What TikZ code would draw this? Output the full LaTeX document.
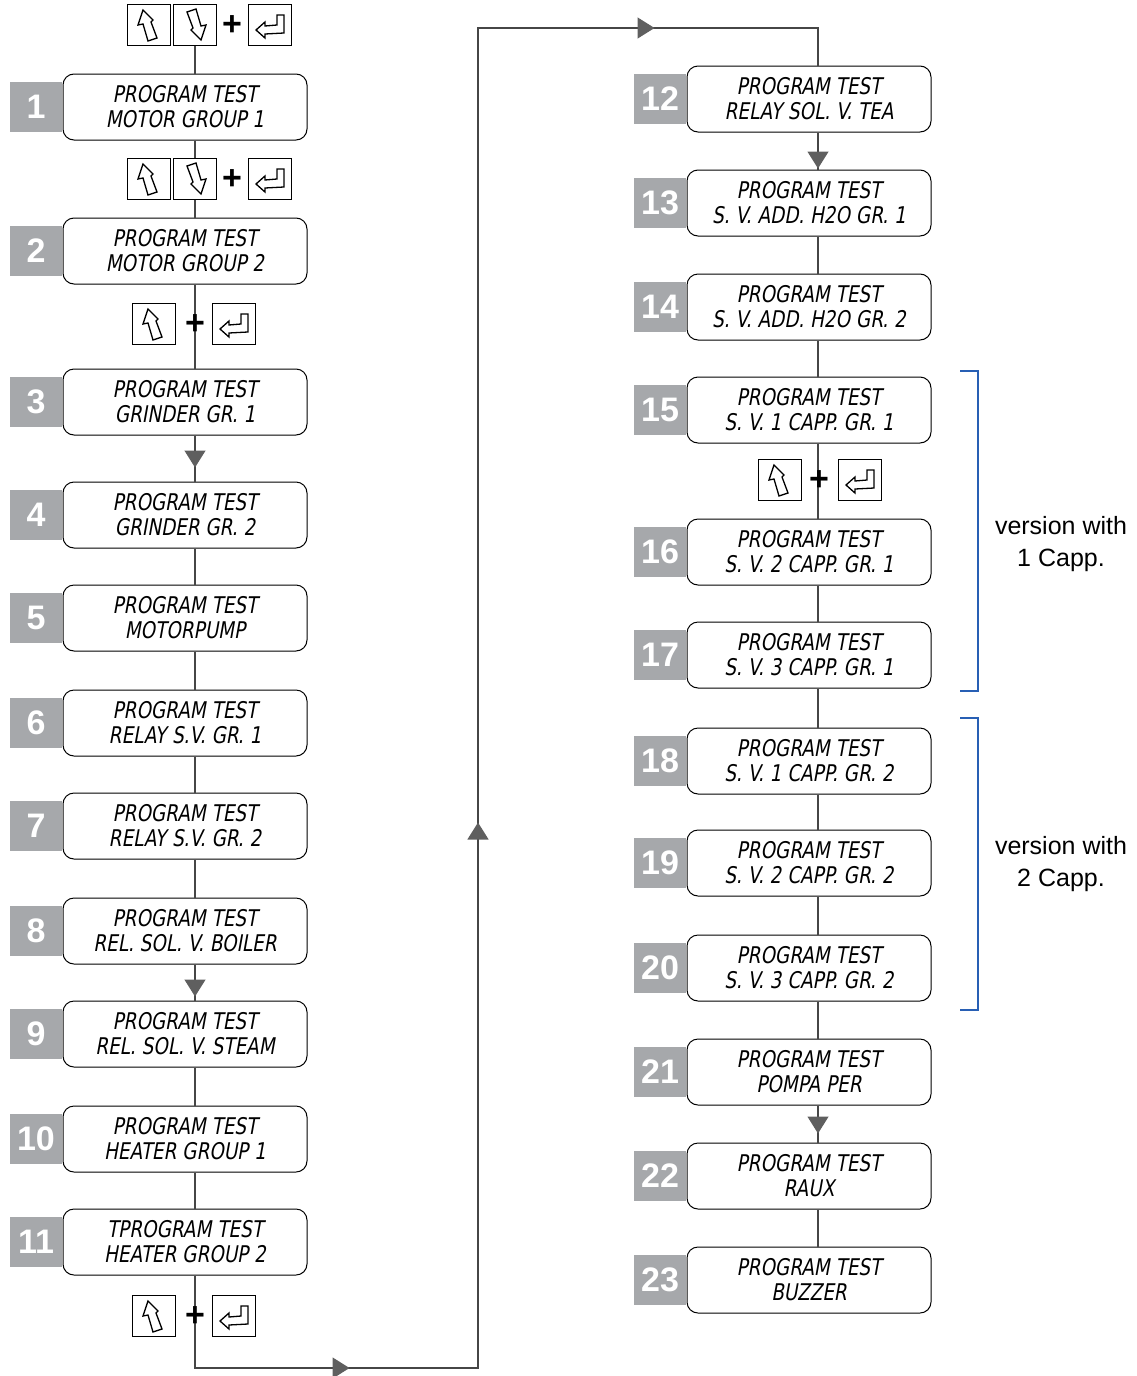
\documentclass[tikz,border=0pt]{standalone}
\usepackage{fontspec}
\setmainfont{Liberation Sans}
\setsansfont{Liberation Sans}
\newfontfamily\lcdfont[FakeStretch=0.8,FakeSlant=0.18]{DejaVu Sans}
\usepackage{xcolor}
\usetikzlibrary{arrows.meta,positioning,calc,decorations.markings}

\definecolor{numgray}{RGB}{166,168,171}
\definecolor{tipgray}{RGB}{95,95,95}
\definecolor{linegray}{RGB}{70,70,70}
\definecolor{bracketblue}{RGB}{40,95,180}

\tikzset{
  disp/.style={draw,rounded corners=11pt,line width=1pt,minimum width=244pt,minimum height=66pt,
    inner sep=0pt,align=center,font=\lcdfont\fontsize{23}{25}\selectfont},
  numbox/.style={fill=numgray,minimum width=52pt,minimum height=50pt,inner sep=0pt,
    text=white,font=\fontsize{34}{34}\selectfont\bfseries},
  keybox/.style={draw,fill=white,line width=0.9pt,minimum width=43pt,minimum height=41pt,inner sep=0pt},
  glyph/.style={draw,line width=1.3pt,line join=miter},
  plussign/.style={inner sep=0pt,font=\fontsize{34}{34}\selectfont\bfseries},
  flow/.style={draw=linegray,line width=1.3pt},
  tipat/.style={postaction=decorate,decoration={markings,
    mark=at position #1 with {\arrow{Triangle[width=21pt,length=17pt,color=tipgray]}}}},
  bracket/.style={draw=bracketblue,line width=1.3pt},
  note/.style={align=center,font=\fontsize{25}{32}\selectfont},
  upkey/.pic={
    \node[keybox] (-box) {};
    \draw[glyph] (-6,-15) -- (-11,0) -- (-6,-1) -- (-1,16) -- (8,13) -- (2,-3) -- (4,-5) -- cycle;
  },
  dnkey/.pic={
    \node[keybox] (-box) {};
    \draw[glyph] (6,15) -- (11,0) -- (6,1) -- (1,-16) -- (-8,-13) -- (-2,3) -- (-4,5) -- cycle;
  },
  entkey/.pic={
    \node[keybox] (-box) {};
    \draw[glyph] (-14,5) -- (-5,-3) -- (-5,1) -- (7,0) -- (7,-10) -- (14,-10) -- (14,8) -- (-5,9) -- (-5,13) -- cycle;
  }
}

\begin{document}
\begin{tikzpicture}[x=1pt,y=-1pt]
\useasboundingbox (0,0) rectangle (1137,1376);

% spines of the two columns
\coordinate (lx) at (195,0);
\coordinate (rx) at (818,0);

% left column displays
\node[disp] (d1) at (185,107) {PROGRAM TEST\\MOTOR GROUP 1};
\node[disp] (d2) at (185,251) {PROGRAM TEST\\MOTOR GROUP 2};
\node[disp] (d3) at (185,402) {PROGRAM TEST\\GRINDER GR. 1};
\node[disp] (d4) at (185,515) {PROGRAM TEST\\GRINDER GR. 2};
\node[disp] (d5) at (185,618) {PROGRAM TEST\\MOTORPUMP};
\node[disp] (d6) at (185,723) {PROGRAM TEST\\RELAY S.V. GR. 1};
\node[disp] (d7) at (185,826) {PROGRAM TEST\\RELAY S.V. GR. 2};
\node[disp] (d8) at (185,931) {PROGRAM TEST\\REL. SOL. V. BOILER};
\node[disp] (d9) at (185,1034) {PROGRAM TEST\\REL. SOL. V. STEAM};
\node[disp] (d10) at (185,1139) {PROGRAM TEST\\HEATER GROUP 1};
\node[disp] (d11) at (185,1242) {TPROGRAM TEST\\HEATER GROUP 2};

% right column displays
\node[disp] (d12) at (809,99) {PROGRAM TEST\\RELAY SOL. V. TEA};
\node[disp] (d13) at (809,203) {PROGRAM TEST\\S. V. ADD. H2O GR. 1};
\node[disp] (d14) at (809,307) {PROGRAM TEST\\S. V. ADD. H2O GR. 2};
\node[disp] (d15) at (809,410) {PROGRAM TEST\\S. V. 1 CAPP. GR. 1};
\node[disp] (d16) at (809,552) {PROGRAM TEST\\S. V. 2 CAPP. GR. 1};
\node[disp] (d17) at (809,655) {PROGRAM TEST\\S. V. 3 CAPP. GR. 1};
\node[disp] (d18) at (809,761) {PROGRAM TEST\\S. V. 1 CAPP. GR. 2};
\node[disp] (d19) at (809,863) {PROGRAM TEST\\S. V. 2 CAPP. GR. 2};
\node[disp] (d20) at (809,968) {PROGRAM TEST\\S. V. 3 CAPP. GR. 2};
\node[disp] (d21) at (809,1072) {PROGRAM TEST\\POMPA PER};
\node[disp] (d22) at (809,1176) {PROGRAM TEST\\RAUX};
\node[disp] (d23) at (809,1280) {PROGRAM TEST\\BUZZER};

% step numbers
\foreach \i/\y in {1/107,2/251,3/402,4/515,5/618,6/723,7/826,8/931,9/1034,10/1139,11/1242}
  \node[numbox] (n\i) at (36,\y) {\i};
\foreach \i/\y in {12/99,13/203,14/307,15/410,16/552,17/655,18/761,19/863,20/968,21/1072,22/1176,23/1280}
  \node[numbox] (n\i) at (660,\y) {\i};

% connectors, left column
\draw[flow] (d1.south -| lx) -- (d2.north -| lx);
\draw[flow] (d2.south -| lx) -- (d3.north -| lx);
\draw[flow,tipat=32pt] (d3.south -| lx) -- (d4.north -| lx);
\foreach \a/\b in {4/5,5/6,6/7,7/8,9/10,10/11}
  \draw[flow] (d\a.south -| lx) -- (d\b.north -| lx);
\draw[flow,tipat=32pt] (d8.south -| lx) -- (d9.north -| lx);

% connectors, right column
\draw[flow,tipat=36pt] (d12.south -| rx) -- (d13.north -| rx);
\foreach \a/\b in {13/14,14/15,15/16,16/17,17/18,18/19,19/20,20/21,22/23}
  \draw[flow] (d\a.south -| rx) -- (d\b.north -| rx);
\draw[flow,tipat=28pt] (d21.south -| rx) -- (d22.north -| rx);

% loop from 11 to 12
\coordinate (lb) at (478,1368);
\coordinate (lt) at (478,28);
\draw[flow,postaction=decorate,decoration={markings,
    mark=at position 247pt with {\arrow{Triangle[width=21pt,length=17pt,color=tipgray]}},
    mark=at position 921pt with {\arrow{Triangle[width=21pt,length=17pt,color=tipgray]}},
    mark=at position 1892pt with {\arrow{Triangle[width=21pt,length=17pt,color=tipgray]}}}]
  (d11.south -| lx) |- (lb) -- (lt) -| (d12.north -| rx);

% key combinations
\pic (ku0) at (149,25) {upkey};
\pic (kd0) at (195,25) {dnkey};
\node[plussign] (p0) at (232,26) {+};
\pic (ke0) at (270,25) {entkey};
\draw[flow] (kd0-box.south) -- (d1.north -| kd0-box);

\pic (ku1) at (149,179) {upkey};
\pic (kd1) at (195,179) {dnkey};
\node[plussign] (p1) at (232,180) {+};
\pic (ke1) at (270,179) {entkey};
\draw[flow] (kd1-box.south) -- (d2.north -| kd1-box);
\draw[flow] (d1.south -| kd1-box) -- (kd1-box.north);

\pic (ku2) at (154,324) {upkey};
\node[plussign] (p2) at (195,325) {+};
\pic (ke2) at (234,324) {entkey};

\pic (ku3) at (154,1316) {upkey};
\node[plussign] (p3) at (195,1317) {+};
\pic (ke3) at (234,1316) {entkey};

\pic (ku4) at (780,480) {upkey};
\node[plussign] (p4) at (819,481) {+};
\pic (ke4) at (860,480) {entkey};

% version brackets
\draw[bracket] (960,371) -| (978,691) -- (960,691);
\draw[bracket] (960,718) -| (978,1010) -- (960,1010);
\node[note] (v1) at (1061,544) {version with\\1 Capp.};
\node[note] (v2) at (1061,864) {version with\\2 Capp.};

\end{tikzpicture}
\end{document}
